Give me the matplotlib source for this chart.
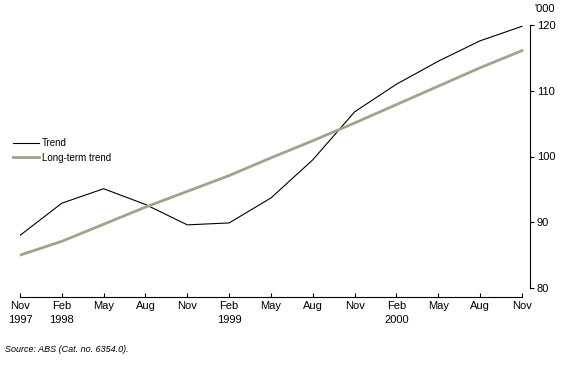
import numpy as np
import matplotlib.pyplot as plt

plt.rcParams['font.family'] = ['Liberation Sans', 'DejaVu Sans']

# --Datos (trimestrales, nov 1997 - nov 2000), en miles
months = ['Nov', 'Feb', 'May', 'Aug', 'Nov', 'Feb', 'May', 'Aug', 'Nov', 'Feb', 'May', 'Aug', 'Nov']
years = ['1997', '1998', '', '', '', '1999', '', '', '', '2000', '', '', '']
trend = [88.0, 92.9, 95.1, 92.7, 89.6, 89.9, 93.7, 99.5, 106.8, 111.0, 114.5, 117.6, 119.8]
longterm = [85.0, 87.1, 89.7, 92.3, 94.7, 97.1, 99.8, 102.4, 105.1, 107.9, 110.7, 113.5, 116.1]
yticks = [80, 90, 100, 110, 120]

fig = plt.figure(figsize=(5.67, 3.78), dpi=100)
ax = fig.add_axes([20 / 567, 1 - 297 / 378, 510 / 567, 272 / 378])

x = np.arange(len(months))
ax.plot(x, trend, color='black', lw=0.8, label='Trend')
ax.plot(x, longterm, color='#a3a28a', lw=2.0, label='Long-term trend')

ax.set_xlim(0, 12 + 8 / 41.8)
ax.set_ylim(80 - 9 / 6.575, 120)

# --Ejes
for s in ['top', 'left']:
    ax.spines[s].set_visible(False)
ax.spines['bottom'].set_bounds(0, 12)
ax.spines['right'].set_bounds(80, 120)
ax.spines['bottom'].set_linewidth(0.8)
ax.spines['right'].set_linewidth(0.8)

ax.yaxis.tick_right()
ax.set_yticks(yticks)
ax.tick_params(axis='y', direction='out', length=3, width=0.8, labelsize=8, pad=2)
ax.set_xticks(x)
ax.set_xticklabels([m + '\n' + y for m, y in zip(months, years)], fontsize=8, linespacing=1.5)
ax.tick_params(axis='x', direction='in', length=3, width=0.8, pad=3)

fig.text(545 / 567, 1 - 9 / 378, "'000", fontsize=8, ha='center', va='center')
fig.text(5 / 567, 1 - 350 / 378, 'Source: ABS (Cat. no. 6354.0).', fontsize=6.5,
         style='italic', va='center')

ax.legend(loc='upper left', bbox_to_anchor=(-0.03, 0.615), frameon=False, fontsize=7,
          handlelength=2.6, handletextpad=0.3, labelspacing=0.45)

plt.savefig('out.png', dpi=100)
